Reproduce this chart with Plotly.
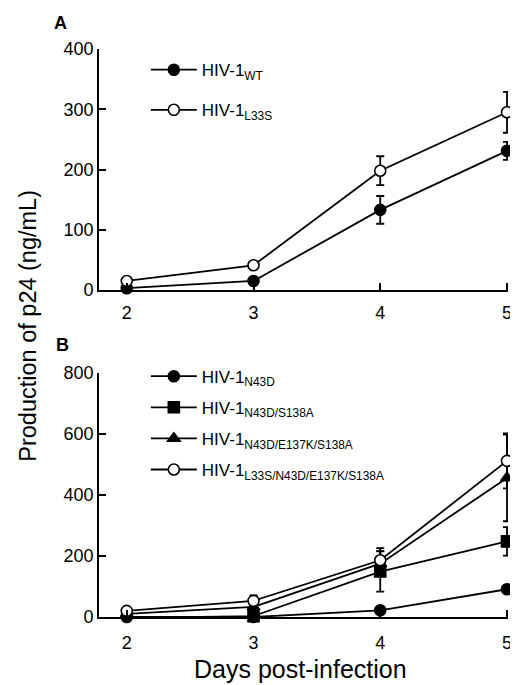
import plotly.graph_objects as go

days = [2, 3, 4, 5]

# Panel A
wt = [3, 15, 133, 231]
wt_err = [2, 4, 23, 15]
l33s = [15, 41, 198, 295]
l33s_err = [3, 4, 24, 34]

# Panel B
n43d = [0, 0, 22, 91]
n43d_err = [2, 2, 4, 6]
n43d_s138a = [-3, 3, 149, 248]
n43d_s138a_err = [3, 3, 66, 47]
n43d_e137k_s138a = [10, 33, 175, 456]
n43d_e137k_s138a_err = [3, 5, 41, 142]
l33s_all = [20, 53, 186, 512]
l33s_all_err = [4, 18, 40, 90]

yticks_a = [0, 100, 200, 300, 400]
yticks_b = [0, 200, 400, 600, 800]

FONT = "Liberation Sans, Arial, sans-serif"
fig = go.Figure()

def add(x, y, err, name, symbol, fill, xa, ya, legend, group):
    fig.add_trace(go.Scatter(
        x=x, y=y, name=name, mode="lines+markers",
        xaxis=xa, yaxis=ya, legend=legend, legendgroup=group,
        line=dict(color="black", width=1.8),
        marker=dict(symbol=symbol, size=11, color=fill,
                    line=dict(color="black", width=1.6)),
        error_y=dict(type="data", array=err, color="black",
                     thickness=1.8, width=4),
        cliponaxis=False,
    ))

add(days, wt, wt_err, "HIV-1<sub>WT</sub>", "circle", "black", "x", "y", "legend", "a1")
add(days, l33s, l33s_err, "HIV-1<sub>L33S</sub>", "circle", "white", "x", "y", "legend", "a2")

add(days, n43d, n43d_err, "HIV-1<sub>N43D</sub>", "circle", "black", "x2", "y2", "legend2", "b1")
add(days, n43d_s138a, n43d_s138a_err, "HIV-1<sub>N43D/S138A</sub>", "square", "black", "x2", "y2", "legend2", "b2")
add(days, n43d_e137k_s138a, n43d_e137k_s138a_err, "HIV-1<sub>N43D/E137K/S138A</sub>", "triangle-up", "black", "x2", "y2", "legend2", "b3")
add(days, l33s_all, l33s_all_err, "HIV-1<sub>L33S/N43D/E137K/S138A</sub>", "circle", "white", "x2", "y2", "legend2", "b4")

axis_common = dict(showline=True, linecolor="black", linewidth=1.8,
                   ticks="inside", ticklen=7, tickwidth=1.8, tickcolor="black",
                   showgrid=False, zeroline=False,
                   tickfont=dict(family=FONT, size=18, color="black"))

PH = 568
PW = 413
top_a = 1.0
bot_a = (609 - 282) / PH
top_b = (609 - 365) / PH

fig.update_layout(
    width=510, height=677,
    margin=dict(l=91, r=6, t=41, b=68),
    paper_bgcolor="white", plot_bgcolor="white",
    showlegend=True,
    xaxis=dict(domain=[0, 1], range=[1.781, 5.008], tickvals=days, anchor="y",
               ticklabelstandoff=5, **axis_common),
    yaxis=dict(domain=[bot_a, top_a], range=[0, 400], tickvals=yticks_a, anchor="x", **axis_common),
    xaxis2=dict(domain=[0, 1], range=[1.781, 5.008], tickvals=days, anchor="y2",
                ticklabelstandoff=8, **axis_common),
    yaxis2=dict(domain=[0, top_b], range=[0, 800], tickvals=yticks_b, anchor="x2", **axis_common),
    legend=dict(x=0.1 + 6 / PW, y=1.005 - 6 / PH, xanchor="left", yanchor="top",
                font=dict(family=FONT, size=17, color="black"),
                bgcolor="rgba(0,0,0,0)", tracegroupgap=15, traceorder="grouped",
                itemwidth=46),
    legend2=dict(x=0.1 + 6 / PW, y=top_b + 0.02 + 3 / PH, xanchor="left", yanchor="top",
                 font=dict(family=FONT, size=17, color="black"),
                 bgcolor="rgba(0,0,0,0)", tracegroupgap=6, traceorder="grouped",
                 itemwidth=46),
    annotations=[
        dict(text="<b>A</b>", xref="paper", yref="paper", x=(52.5 - 91) / PW, y=(609 - 15) / PH,
             xanchor="center", yanchor="middle", showarrow=False,
             font=dict(family=FONT, size=18, color="black")),
        dict(text="<b>B</b>", xref="paper", yref="paper", x=(54 - 91) / PW, y=(609 - 337) / PH,
             xanchor="center", yanchor="middle", showarrow=False,
             font=dict(family=FONT, size=18, color="black")),
        dict(text="Production of p24 (ng/mL)", xref="paper", yref="paper",
             x=(19 - 91) / PW, y=(609 - 318) / PH, xanchor="center", yanchor="middle",
             textangle=-90, showarrow=False,
             font=dict(family=FONT, size=23.5, color="black")),
        dict(text="Days post-infection", xref="paper", yref="paper",
             x=(294 - 91) / PW, y=(609 - 661) / PH, xanchor="center", yanchor="middle",
             showarrow=False, font=dict(family=FONT, size=25, color="black")),
    ],
)

fig.write_html("out.html")
